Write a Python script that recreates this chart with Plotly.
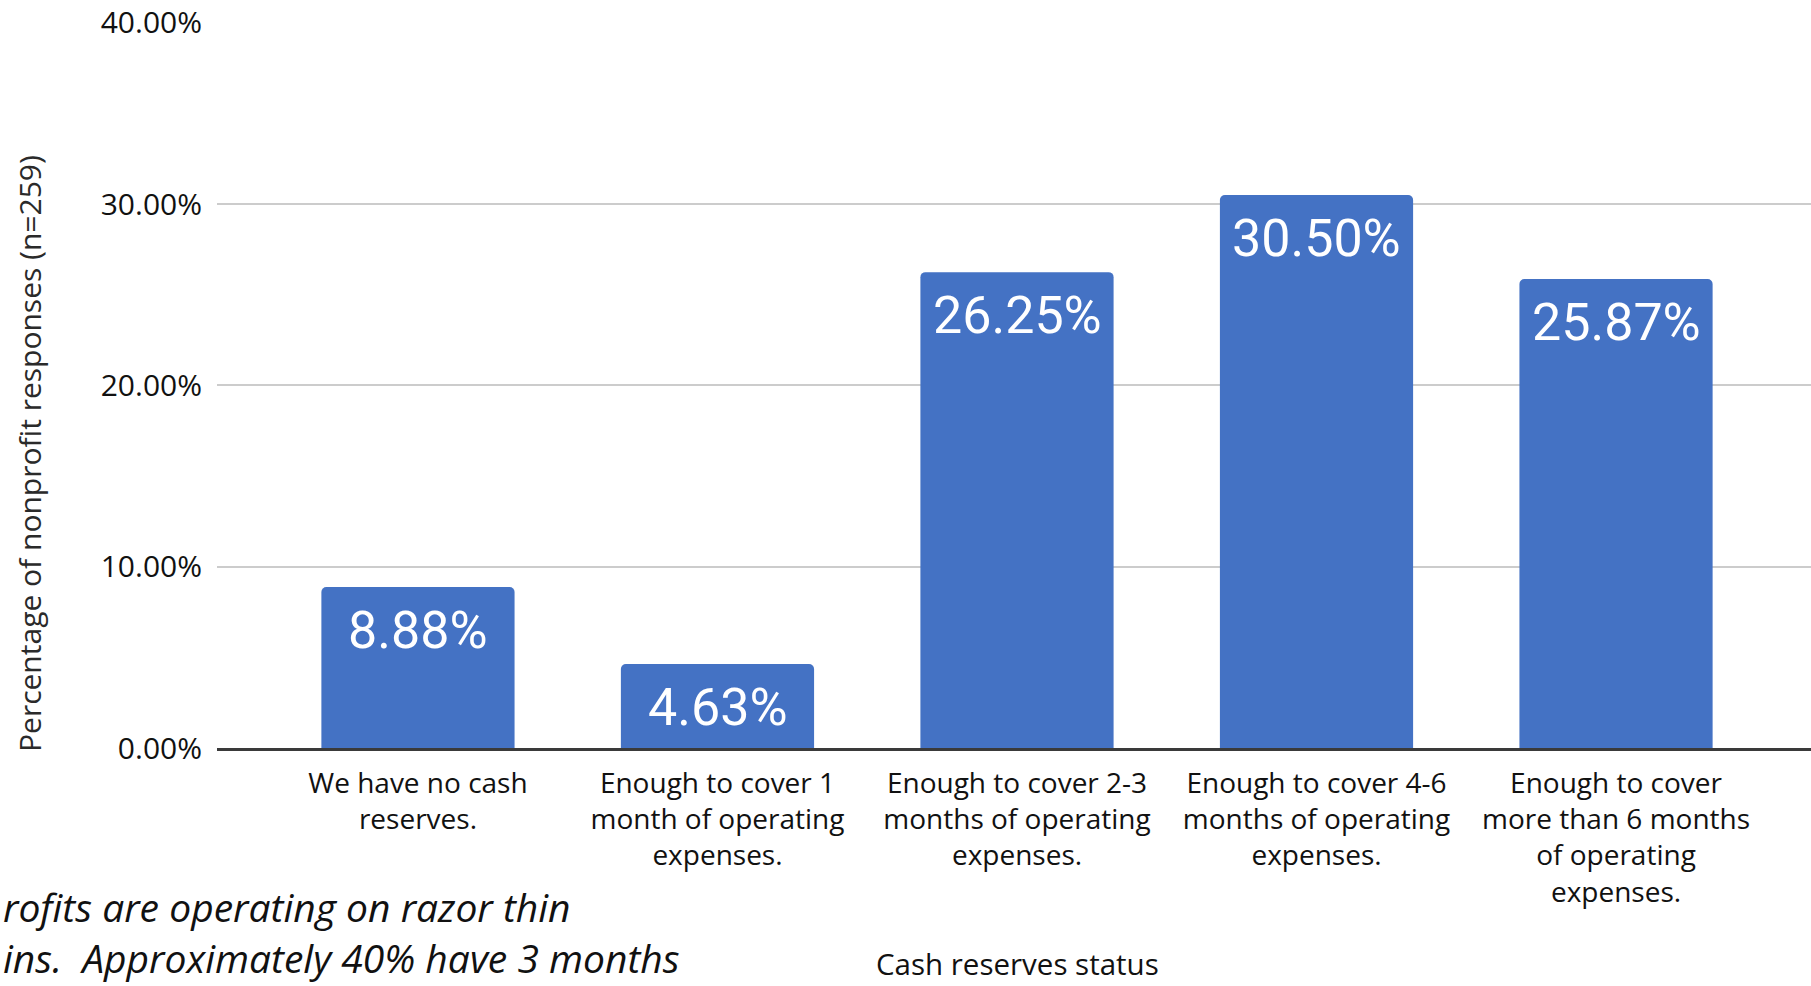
import plotly.graph_objects as go

# Survey results: cash reserves held by nonprofits
categories = [
    "We have no cash reserves.",
    "Enough to cover 1 month of operating expenses.",
    "Enough to cover 2-3 months of operating expenses.",
    "Enough to cover 4-6 months of operating expenses.",
    "Enough to cover more than 6 months of operating expenses.",
]
tick_labels = [
    "We have no cash<br>reserves.",
    "Enough to cover 1<br>month of operating<br>expenses.",
    "Enough to cover 2-3<br>months of operating<br>expenses.",
    "Enough to cover 4-6<br>months of operating<br>expenses.",
    "Enough to cover<br>more than 6 months<br>of operating<br>expenses.",
]
percent_values = [8.88, 4.63, 26.25, 30.50, 25.87]
y_ticks = [0, 10, 20, 30, 40]
y_tick_labels = [f"{v:.2f}%" for v in y_ticks]

# commentary fragment shown at the lower left
note_lines = [
    "rofits are operating on razor thin",
    "ins.\u00a0\u00a0Approximately 40% have 3 months",
]

W, H = 1811, 986
ML, MR, MT, MB = 217, 0, 22, 238
plot_w = W - ML - MR
plot_h = H - MT - MB


def px_x(p):
    return (p - ML) / plot_w


def px_y(p):
    return (H - MB - p) / plot_h


BAR_COLOR = "#4472C4"
TEXT_FONT = "Open Sans, Lato, sans-serif"
INK = "#111111"

fig = go.Figure()
fig.add_trace(
    go.Bar(
        x=categories,
        y=percent_values,
        marker=dict(color=BAR_COLOR, line=dict(width=0)),
        hoverinfo="skip",
    )
)

# value labels inside the top of each bar
for cat, v in zip(categories, percent_values):
    fig.add_annotation(
        x=cat, y=v, xref="x", yref="y",
        text=f"{v:.2f}%",
        showarrow=False,
        yanchor="top",
        yshift=-11,
        font=dict(family="Roboto, sans-serif", size=52, color="white"),
    )

# vertical axis title
fig.add_annotation(
    x=px_x(29), y=px_y(454), xref="paper", yref="paper",
    text="Percentage of nonprofit responses (n=259)",
    showarrow=False, textangle=-90,
    xanchor="center", yanchor="middle",
    font=dict(family=TEXT_FONT, size=30, color="#2a2a2a"),
)

# horizontal axis title
fig.add_annotation(
    x=px_x(1017), y=px_y(986), xref="paper", yref="paper",
    text="Cash reserves status",
    showarrow=False, xanchor="center", yanchor="bottom",
    font=dict(family=TEXT_FONT, size=29.5, color=INK),
)

# commentary block
fig.add_annotation(
    x=px_x(1), y=px_y(986), xref="paper", yref="paper",
    text="<br>".join(note_lines), showarrow=False,
    xanchor="left", yanchor="bottom", align="left",
    font=dict(family=TEXT_FONT, size=39, color=INK, style="italic"),
)

fig.update_layout(
    width=W, height=H,
    margin=dict(l=ML, r=MR, t=MT, b=MB, pad=0),
    paper_bgcolor="white",
    plot_bgcolor="white",
    showlegend=False,
    bargap=0.355,
    barcornerradius=5,
    font=dict(family=TEXT_FONT, color=INK),
)

fig.update_xaxes(
    type="category",
    categoryorder="array",
    categoryarray=categories,
    tickvals=categories,
    ticktext=tick_labels,
    range=[-0.671, 4.651],
    showgrid=False,
    showline=True,
    linecolor="#3a3a3a",
    linewidth=3,
    ticks="",
    tickangle=0,
    ticklabelstandoff=8,
    tickfont=dict(family=TEXT_FONT, size=28, color=INK),
    fixedrange=True,
)

fig.update_yaxes(
    range=[0, 40.05],
    tickvals=y_ticks,
    ticktext=y_tick_labels,
    showgrid=True,
    gridcolor="#cccccc",
    gridwidth=2,
    zeroline=False,
    showline=False,
    ticks="",
    ticklabelstandoff=14,
    tickfont=dict(family=TEXT_FONT, size=30, color=INK),
    fixedrange=True,
)

fig.write_html("out.html")
